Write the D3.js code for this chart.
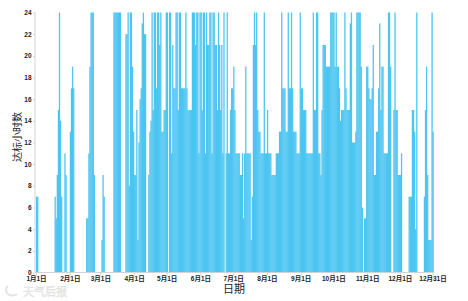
<!DOCTYPE html>
<html><head><meta charset="utf-8">
<script src="https://cdn.jsdelivr.net/npm/d3@7"></script>
<style>
html,body{margin:0;padding:0;background:#fff;}
svg{display:block;}
text{font-family:"Liberation Sans","Noto Sans CJK SC",sans-serif;}
</style></head>
<body>
<svg id="c" width="468" height="301"></svg>
<script>
// Daily hours meeting the standard, one array per month (non-leap year)
const jan = [7,7,0,0,0,0,0,0,0,0, 0,0,0,0,0,0,0,7,5,9, 15,24,14,7,0,0,11,9,0,0, 0];
const feb = [13,17,19,17,0,0,0,0,0,0, 0,0,0,0,0,5,5,11,19,24, 24,24,9,0,0,0,0,0];
const mar = [0,3,9,7,0,0,0,0,0,0, 0,0,24,24,24,24,24,24,24,0, 0,0,0,22,22,24,8,24,24,19, 13];
const apr = [9,9,15,3,12,16,17,23,24,22, 22,0,0,9,13,14,24,15,24,24, 17,24,24,21,24,13,13,15,15,24];
const may = [24,0,24,24,11,21,17,17,24,24, 15,24,24,17,17,17,17,24,17,15, 15,15,15,24,24,24,21,24,24,11, 24];
const jun = [24,15,24,24,11,24,21,21,24,24, 11,24,24,21,21,15,24,21,15,21, 11,24,0,11,24,11,11,15,17,17];
const jul = [19,15,11,11,11,11,9,9,11,5, 11,19,11,11,11,11,3,7,21,24, 21,24,15,13,13,11,11,11,24,11, 11];
const aug = [15,11,11,11,9,9,9,9,11,11, 11,13,13,24,17,17,17,13,13,24, 17,17,24,17,13,13,13,11,11,11, 24];
const sep = [17,17,15,15,15,11,11,11,11,11, 11,24,15,15,24,24,11,11,9,15, 21,21,21,19,19,19,19,24,24,24];
const oct = [24,19,24,19,19,17,14,15,15,15, 24,17,15,15,15,23,24,12,12,12, 13,24,24,24,24,19,6,0,5,5, 19];
const nov = [19,17,16,16,17,21,9,9,13,13, 17,23,15,19,19,11,11,11,11,24, 24,19,0,0,15,24,15,15,9,9];
const dec = [9,11,0,0,0,0,0,0,7,7, 7,15,15,13,4,24,0,0,0,0, 0,0,7,15,19,9,3,3,3,24, 13];

const yTicks = [0,2,4,6,8,10,12,14,16,18,20,22,24];
const yTitle = "达标小时数";
const xTitle = "日期";
const year = 2015;

const values = [].concat(jan,feb,mar,apr,may,jun,jul,aug,sep,oct,nov,dec);
const data = values.map((v,i)=>({date:new Date(year,0,1+i), v}));

const svg = d3.select("#c");
const x = d3.scaleTime().domain([new Date(year,0,1), new Date(year,11,31)]).range([36, 432.5]);
const y = d3.scaleLinear().domain([0,24]).range([272.5, 12.5]);
const step = x(new Date(year,0,2)) - x(new Date(year,0,1));

// bars
svg.append("g").selectAll("rect").data(data).join("rect")
  .attr("x", d => x(d.date))
  .attr("y", d => y(d.v))
  .attr("width", step + 0.2)
  .attr("height", d => y(0) - y(d.v))
  .attr("fill", "#3fc1f0")
  .attr("fill-opacity", 0.93);

// x axis
const xTickVals = d3.range(0,12).map(m => new Date(year,m,1)).concat([new Date(year,11,31)]);
const xAxis = d3.axisBottom(x).tickValues(xTickVals).tickSize(3).tickPadding(1)
  .tickFormat(d => (d.getMonth()+1) + "月" + d.getDate() + "日");
const gx = svg.append("g").attr("transform","translate(0,272.5)").call(xAxis);
gx.select(".domain").attr("stroke","#cfd4d8").attr("d","M35,0H433");
gx.selectAll(".tick line").attr("stroke","#cfd4d8");
gx.selectAll("text").attr("font-size","6.5px").attr("fill","#222").attr("font-weight","bold");

// y axis
const yAxis = d3.axisLeft(y).tickValues(yTicks).tickSize(2).tickPadding(1.5);
const gy = svg.append("g").attr("transform","translate(35,0)").call(yAxis);
gy.select(".domain").attr("stroke","#cfd4d8").attr("d","M0,12V272.5");
gy.selectAll(".tick line").attr("stroke","#cfd4d8");
gy.selectAll("text").attr("font-size","6.5px").attr("fill","#222").attr("font-weight","bold");

// titles
svg.append("text").attr("transform","translate(21,137) rotate(-90)")
  .attr("text-anchor","middle").attr("font-size","10px").attr("fill","#222").text(yTitle);
svg.append("text").attr("x",234).attr("y",293)
  .attr("text-anchor","middle").attr("font-size","11px").attr("fill","#222").text(xTitle);

// faint watermark
const wm = svg.append("g").attr("opacity",0.9);
wm.append("path").attr("d","M8,286 a6,5 0 1,0 9,8").attr("fill","none").attr("stroke","#e2e2e2").attr("stroke-width",2.2);
wm.append("text").attr("x",23).attr("y",296).attr("font-size","11px").attr("fill","#ededed")
  .attr("stroke","#dcdcdc").attr("stroke-width",0.4).text("天气后报");
</script>
</body></html>
